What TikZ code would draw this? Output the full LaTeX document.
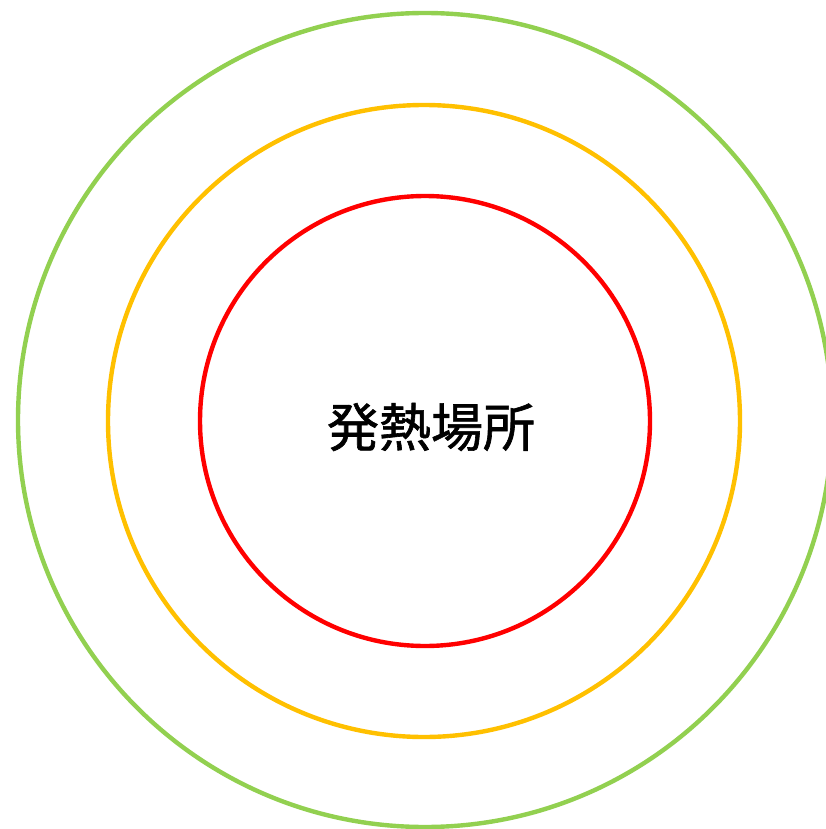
\documentclass[tikz,border=0pt]{standalone}
\usepackage{fontspec}
\newfontfamily\cjk[FakeBold=1.2]{Noto Sans CJK JP}
\definecolor{ringgreen}{HTML}{92D050}
\definecolor{ringorange}{HTML}{FFC000}
\definecolor{ringred}{HTML}{FF0000}
\begin{document}
\begin{tikzpicture}[x=1pt,y=-1pt,
  ring/.style={line width=4.4pt}]
\useasboundingbox[fill=white] (0,0) rectangle (826,829);
\draw[ring,ringgreen] (425,420) circle[radius=407];
\draw[ring,ringorange] (424,421) circle[radius=316];
\draw[ring,ringred] (425,421) circle[radius=225];
\node[font=\cjk\fontsize{52}{62}\selectfont, inner sep=0pt] (label) at (431,427) {発熱場所};
\end{tikzpicture}
\end{document}
